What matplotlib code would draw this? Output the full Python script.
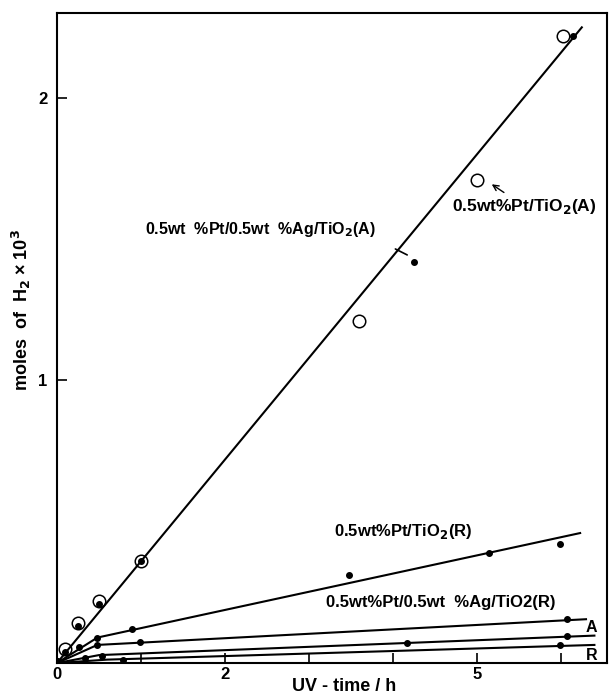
import matplotlib.pyplot as plt
import numpy as np

plt.rcParams['font.family'] = ['Liberation Sans', 'DejaVu Sans']
plt.rcParams['font.weight'] = 'bold'

# Pt/TiO2(A) - open circles
ptA_x = [0.1, 0.25, 0.5, 1.0, 3.6, 5.0, 6.02]
ptA_y = [0.05, 0.14, 0.22, 0.36, 1.21, 1.71, 2.22]
# Pt/Ag/TiO2(A) - filled dots
ptagA_x = [0.1, 0.25, 0.5, 1.0, 4.25, 6.15]
ptagA_y = [0.04, 0.13, 0.21, 0.36, 1.42, 2.22]
lineA_x = [0, 6.25]
lineA_y = [0, 2.25]

# Pt/TiO2(R)
ptR_x = [0.48, 0.89, 3.48, 5.14, 5.99]
ptR_y = [0.09, 0.12, 0.31, 0.39, 0.42]
lineR_x = [0, 0.48, 6.23]
lineR_y = [0, 0.09, 0.46]

# Pt/Ag/TiO2(R)
ptagR_x = [0.26, 0.48, 0.99, 6.07]
ptagR_y = [0.055, 0.064, 0.074, 0.155]
lineagR_x = [0, 0.48, 6.3]
lineagR_y = [0, 0.064, 0.155]

# lower lines A and R
lowA_x = [0.33, 0.53, 4.17, 6.07]
lowA_y = [0.017, 0.025, 0.07, 0.095]
lowA_lx = [0, 0.5, 6.4]
lowA_ly = [0, 0.028, 0.097]

lowR_x = [0.79, 5.99]
lowR_y = [0.012, 0.064]
lowR_lx = [0, 0.6, 6.4]
lowR_ly = [0, 0.012, 0.064]

fig = plt.figure(figsize=(6.15, 6.96), dpi=100)
ax = fig.add_axes([0.0927, 0.0474, 0.8943, 0.9336])

ax.plot(lineA_x, lineA_y, color='black', lw=1.5)
ax.plot(ptA_x, ptA_y, 'o', mfc='none', mec='black', ms=9, mew=1.1)
ax.plot(ptagA_x, ptagA_y, 'o', color='black', ms=4)

ax.plot(lineR_x, lineR_y, color='black', lw=1.5)
ax.plot(ptR_x, ptR_y, 'o', color='black', ms=4)

ax.plot(lineagR_x, lineagR_y, color='black', lw=1.5)
ax.plot(ptagR_x, ptagR_y, 'o', color='black', ms=4)

ax.plot(lowA_lx, lowA_ly, color='black', lw=1.5)
ax.plot(lowA_x, lowA_y, 'o', color='black', ms=4)
ax.plot(lowR_lx, lowR_ly, color='black', lw=1.5)
ax.plot(lowR_x, lowR_y, 'o', color='black', ms=4)
ax.plot([0], [0], 'o', color='black', ms=7)

ax.set_xlim(0, 6.55)
ax.set_ylim(0, 2.30)
ax.set_xticks([0, 1, 2, 3, 4, 5, 6])
ax.set_xticklabels(['0', '', '2', '', '', '5', ''])
ax.set_yticks([0, 1, 2])
ax.set_yticklabels(['', '1', '2'])
ax.tick_params(direction='in', length=7, width=1.2, labelsize=12)
ax.tick_params(axis='x', pad=3)
ax.tick_params(axis='y', pad=7)
for s in ax.spines.values():
    s.set_linewidth(1.5)

fig.text(0.56, 0.013, 'UV - time / h', fontsize=13, ha='center', va='center')
fig.text(0.035, 0.555, r'moles  of  H$_2$ × 10$^3$', rotation=90, fontsize=13,
         ha='center', va='center')

ax.text(1.05, 1.52, r'0.5wt  %Pt/0.5wt  %Ag/TiO$_2$(A)', fontsize=11.5)
ax.annotate('', xy=(4.2, 1.44), xytext=(4.0, 1.47),
            arrowprops=dict(arrowstyle='-', color='black', lw=1.2))
ax.text(4.7, 1.60, r'0.5wt%Pt/TiO$_2$(A)', fontsize=12.5)
ax.annotate('', xy=(5.15, 1.70), xytext=(5.35, 1.66),
            arrowprops=dict(arrowstyle='->', color='black', lw=1.0))
ax.text(3.3, 0.45, r'0.5wt%Pt/TiO$_2$(R)', fontsize=12)
ax.text(3.2, 0.2, '0.5wt%Pt/0.5wt  %Ag/TiO2(R)', fontsize=12)
ax.text(6.3, 0.11, 'A', fontsize=11.5)
ax.text(6.3, 0.01, 'R', fontsize=11.5)

fig.savefig('out.png', dpi=100)
